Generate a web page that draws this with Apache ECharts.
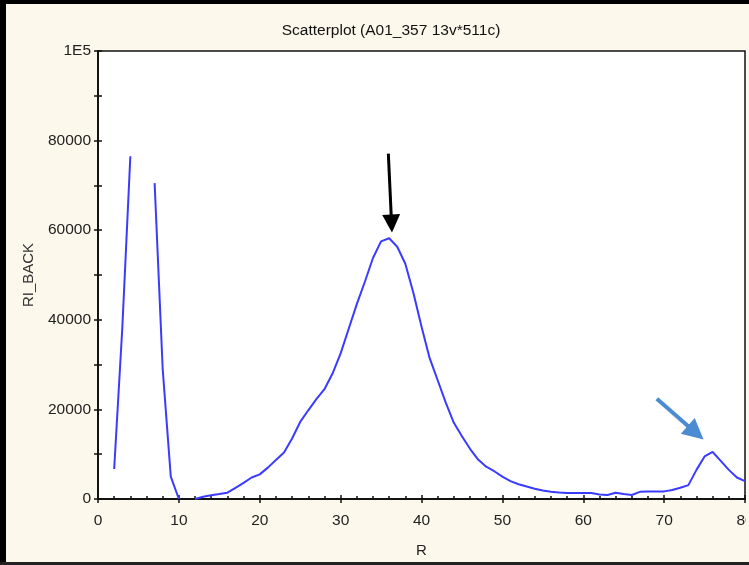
<!DOCTYPE html>
<html>
<head>
<meta charset="utf-8">
<script src="https://cdn.jsdelivr.net/npm/echarts@6/dist/echarts.min.js"></script>
<style>
html,body{margin:0;padding:0;background:#fdf8ec;overflow:hidden;width:749px;height:565px;}
#wrap{position:relative;width:749px;height:565px;overflow:hidden;}
#chart{position:absolute;left:0;top:0;width:749px;height:565px;}
.fr{position:absolute;pointer-events:none;}
</style>
</head>
<body>
<div id="wrap">
<div id="chart"></div>
<div class="fr" style="left:746px;top:0;width:3px;height:565px;background:#fdf8ec"></div>
<div class="fr" style="left:0;top:0;width:749px;height:4px;background:#000"></div>
<div class="fr" style="left:0;top:0;width:6px;height:565px;background:#000"></div>
<div class="fr" style="left:0;top:562px;width:749px;height:3px;background:#222"></div>
</div>
<script>
// Data
var rValues = [2,3,4,5,6,7,8,9,10,11,12,13,14,15,16,17,18,19,20,21,22,23,24,25,26,27,28,29,30,31,32,33,34,35,36,37,38,39,40,41,42,43,44,45,46,47,48,49,50,51,52,53,54,55,56,57,58,59,60,61,62,63,64,65,66,67,68,69,70,71,72,73,74,75,76,77,78,79,80];
var riBack = [6700,38000,76500,null,null,70500,29000,5000,0,null,0,500,850,1100,1400,2500,3600,4800,5500,7000,8700,10400,13500,17200,19800,22300,24500,28000,32500,38000,43500,48500,53800,57500,58200,56300,52500,46000,38500,31500,26500,21500,17000,14000,11200,8800,7200,6200,5000,4000,3300,2800,2300,1900,1600,1450,1350,1350,1350,1350,1000,900,1400,1100,900,1600,1700,1700,1700,2000,2500,3100,6500,9500,10500,8500,6500,4800,4000];
var xTicks = [0,10,20,30,40,50,60,70,80];
var yTicks = [0,20000,40000,60000,80000,100000];
// annotation arrows: [x, y] start and end in data units
var blackArrow = [[35.9, 77100], [36.3, 61500]];
var blueArrow = [[69.1, 22400], [73.9, 14800]];

var chart = echarts.init(document.getElementById('chart'), null, {renderer:'canvas'});
var seriesData = rValues.map(function(r, i){ return [r, riBack[i] === null ? '-' : riBack[i]]; });
var fontFam = 'Liberation Sans, Arial, sans-serif';

var option = {
  backgroundColor: '#fdf8ec',
  animation: false,
  title: {
    text: 'Scatterplot (A01_357 13v*511c)',
    left: 386, top: 18, textAlign: 'center',
    textStyle: {fontFamily: fontFam, fontSize: 15.5, fontWeight: 'normal', color: '#111'}
  },
  grid: {left: 98, right: 4, top: 51, bottom: 66, containLabel: false, outerBoundsMode: 'none',
         show: true, backgroundColor: '#ffffff', borderColor: '#111', borderWidth: 1.5},
  xAxis: [{
    type: 'value', min: xTicks[0], max: xTicks[xTicks.length-1], interval: 10,
    name: 'R', nameLocation: 'middle', nameGap: 44,
    nameTextStyle: {fontFamily: fontFam, fontSize: 15, color: '#222'},
    axisLine: {show: true, lineStyle: {color: '#111', width: 1.5}},
    axisTick: {show: true, inside: true, length: 4, lineStyle: {color: '#111', width: 1.5}},
    minorTick: {show: true, splitNumber: 5, length: 3, lineStyle: {color: '#111', width: 1.5}},
    axisLabel: {margin: 14, fontFamily: fontFam, fontSize: 15.5, color: '#222', showMaxLabel: true, showMinLabel: true},
    splitLine: {show: false}
  }, {
    type: 'value', position: 'top', min: xTicks[0], max: xTicks[xTicks.length-1], interval: 10,
    axisLine: {show: true, lineStyle: {color: '#111', width: 1.5}},
    axisTick: {show: true, inside: true, length: 4, lineStyle: {color: '#111', width: 1.5}},
    axisLabel: {show: false}, splitLine: {show: false}
  }],
  yAxis: [{
    type: 'value', min: yTicks[0], max: yTicks[yTicks.length-1], interval: 10000,
    name: 'RI_BACK', nameLocation: 'middle', nameGap: 62, nameRotate: 90,
    nameTextStyle: {fontFamily: fontFam, fontSize: 15, color: '#333'},
    axisLine: {show: true, lineStyle: {color: '#111', width: 1.5}},
    axisTick: {show: true, inside: true, length: 4, lineStyle: {color: '#111', width: 1.5}},
    axisLabel: {
      margin: 7, fontFamily: fontFam, fontSize: 15.5, color: '#222',
      formatter: function(v){ if (v === 100000) return '1E5'; return yTicks.indexOf(v) >= 0 ? String(v) : ''; }
    },
    splitLine: {show: false}
  }, {
    type: 'value', position: 'right', min: yTicks[0], max: yTicks[yTicks.length-1], interval: 10000,
    axisLine: {show: true, lineStyle: {color: '#111', width: 1.5}},
    axisTick: {show: true, inside: true, length: 4, lineStyle: {color: '#111', width: 1.5}},
    axisLabel: {show: false}, splitLine: {show: false}
  }],
  series: [{
    type: 'line',
    data: seriesData,
    showSymbol: false,
    symbol: 'none',
    connectNulls: false,
    clip: true,
    lineStyle: {color: '#3b3bff', width: 2},
    markLine: {
      silent: true,
      symbol: ['none', 'triangle'],
      label: {show: false},
      emphasis: {disabled: true},
      data: [
        [{coord: blackArrow[0], symbolSize: [0, 18], lineStyle: {color: '#000', width: 3, type: 'solid'}, itemStyle: {color: '#000'}},
         {coord: blackArrow[1], symbolSize: 18, itemStyle: {color: '#000'}}],
        [{coord: blueArrow[0], symbolSize: [0, 21], lineStyle: {color: '#4a8bd2', width: 4, type: 'solid'}, itemStyle: {color: '#4a8bd2'}},
         {coord: blueArrow[1], symbolSize: 21, itemStyle: {color: '#4a8bd2'}}]
      ]
    }
  }]
};
chart.setOption(option);
</script>
</body>
</html>
